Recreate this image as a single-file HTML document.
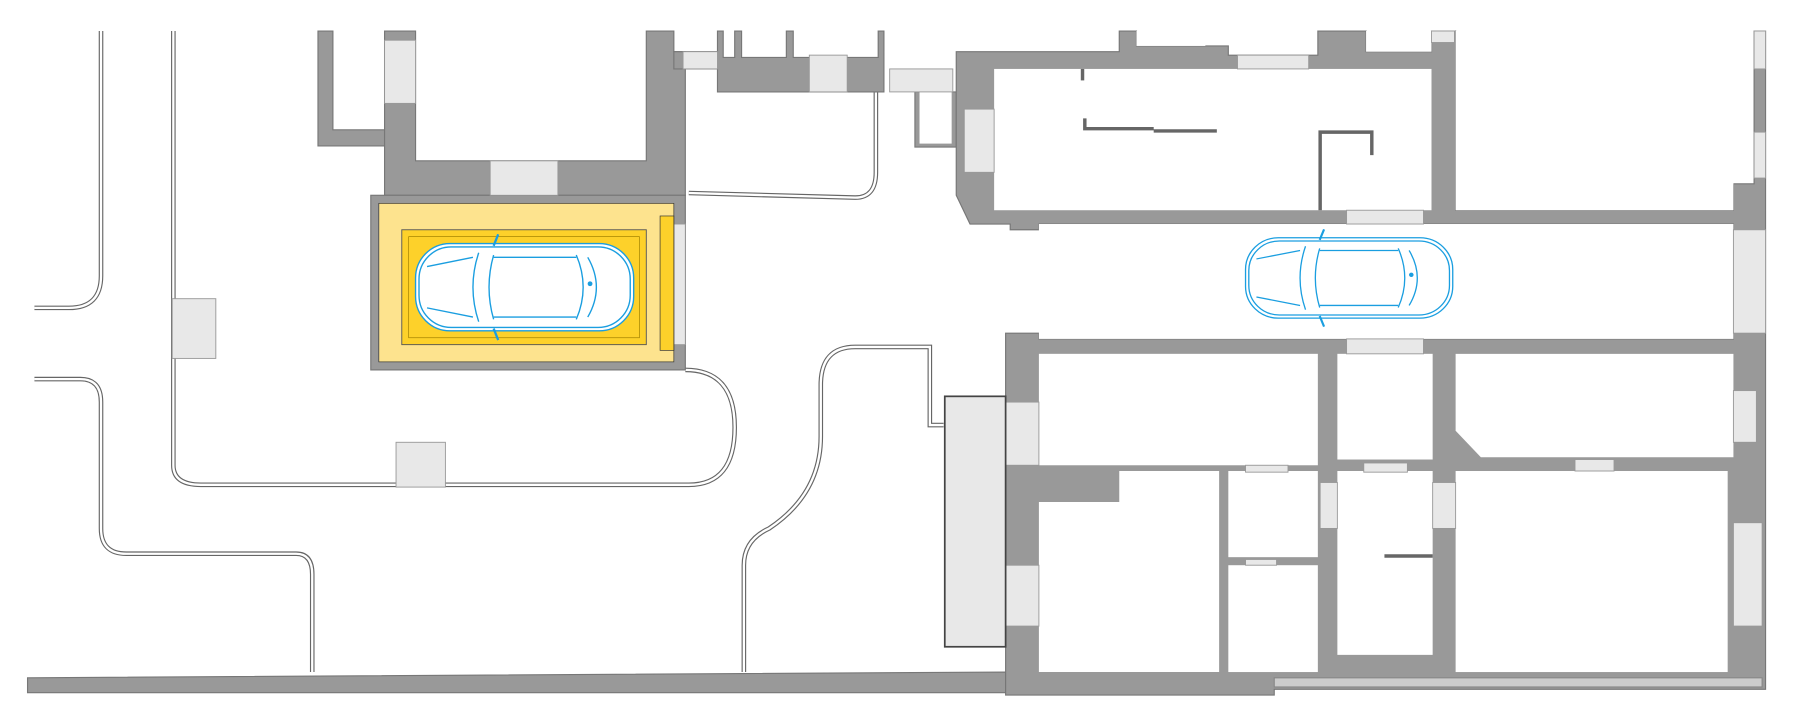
<!DOCTYPE html>
<html><head><meta charset="utf-8"><style>html,body{margin:0;padding:0;background:#fff}svg{display:block}</style></head>
<body>
<svg width="1800" height="718" viewBox="0 0 1568 625" preserveAspectRatio="none" xmlns="http://www.w3.org/2000/svg">
<defs>
<g id="car" fill="none" stroke="#1a9ee0" stroke-width="1.2">
  <rect x="0" y="0" width="190" height="76" rx="30" fill="#fff"/>
  <rect x="3" y="3" width="184" height="70" rx="28"/>
  <path d="M55 8 Q45 38 55 68 M68 10 Q60 38 68 66 M140 10 Q152 38 140 66 M150 12 Q165 38 150 64"/>
  <path d="M68 12 L140 12 M68 64 L140 64 M10 20 L50 12 M10 56 L50 64"/>
  <path d="M68 2 L72 -8 M68 74 L72 84" stroke-width="2"/>
  <circle cx="152" cy="35" r="1.5" fill="#1a9ee0"/>
</g>
</defs>
<g fill="none" stroke="#666" stroke-width="4">
<path d="M88 27 V240 Q88 268 60 268 H30"/>
<path d="M151 27 V405 Q151 422 175 422 H600 Q640 422 640 372 Q640 322 597 322"/>
<path d="M30 330 H70 Q88 330 88 350 V460 Q88 482 110 482 H258 Q272 482 272 500 V585"/>
<path d="M648 585 V492 Q648 470 670 460 Q715 430 715 380 V335 Q715 302 745 302 H810 V370 H822"/>
<path d="M600 168 L745 172 Q763 172 763 150 V80"/>
</g>
<g fill="none" stroke="#fff" stroke-width="2">
<path d="M88 27 V240 Q88 268 60 268 H30"/>
<path d="M151 27 V405 Q151 422 175 422 H600 Q640 422 640 372 Q640 322 597 322"/>
<path d="M30 330 H70 Q88 330 88 350 V460 Q88 482 110 482 H258 Q272 482 272 500 V585"/>
<path d="M648 585 V492 Q648 470 670 460 Q715 430 715 380 V335 Q715 302 745 302 H810 V370 H822"/>
<path d="M600 168 L745 172 Q763 172 763 150 V80"/>
</g>
<g fill="#999" stroke="#777" stroke-width="1">
<polygon points="24,590 876,585 876,603 24,603"/>
<polygon points="277,27 290,27 290,113 335,113 335,127 277,127"/>
<polygon points="335,27 362,27 362,140 563,140 563,27 587,27 587,45 597,45 597,170 335,170"/>
<rect x="323" y="170" width="274" height="152"/>
<polygon points="587,45 625,45 625,27 630,27 630,50 640,50 640,27 646,27 646,50 685,50 685,27 691,27 691,50 765,50 765,27 770,27 770,80 625,80 625,60 587,60"/>
<polygon points="797,80 833,80 833,128 797,128"/>
<polygon points="833,45 975,45 975,27 990,27 990,40 1070,40 1070,48 1148,48 1148,27 1190,27 1190,45 1247,45 1247,27 1268,27 1268,183 1510,183 1510,160 1528,160 1528,27 1538,27 1538,600 1110,600 1110,605 876,605 876,290 905,290 905,295 1510,295 1510,195 905,195 905,200 880,200 880,195 845,195 833,170"/>
</g>
<rect x="801" y="80" width="28" height="45" fill="#fff"/>
<rect x="866" y="60" width="381" height="123" fill="#fff"/>
<rect x="1268" y="27" width="242" height="156" fill="#fff"/>
<rect x="1190" y="27" width="57" height="18" fill="#fff"/>
<rect x="990" y="27" width="60" height="13" fill="#fff"/>
<rect x="905" y="195" width="605" height="100" fill="#fff"/>
<g fill="#fff">
<rect x="905" y="308" width="243" height="97"/>
<rect x="1165" y="308" width="83" height="92"/>
<polygon points="1268,308 1510,308 1510,398 1290,398 1268,375"/>
<polygon points="975,410 1062,410 1062,585 905,585 905,437 975,437"/>
<rect x="1070" y="410" width="78" height="75"/>
<rect x="1070" y="492" width="78" height="93"/>
<polygon points="1165,410 1248,410 1248,570 1165,570"/>
<rect x="1268" y="410" width="237" height="175"/>
</g>
<g fill="#e8e8e8" stroke="#999" stroke-width="0.8">
<rect x="335" y="35" width="27" height="55"/>
<rect x="427" y="140" width="59" height="30"/>
<rect x="150" y="260" width="38" height="52"/>
<rect x="345" y="385" width="43" height="39"/>
<rect x="587" y="195" width="10" height="105"/>
<rect x="595" y="45" width="30" height="15"/>
<rect x="705" y="48" width="33" height="32"/>
<rect x="775" y="60" width="55" height="20"/>
<rect x="840" y="95" width="26" height="55"/>
<rect x="1078" y="48" width="62" height="12"/>
<rect x="1247" y="27" width="20" height="10"/>
<rect x="1173" y="183" width="67" height="12"/>
<rect x="1173" y="295" width="67" height="13"/>
<rect x="1510" y="200" width="28" height="90"/>
<rect x="1528" y="27" width="10" height="33"/>
<rect x="1528" y="115" width="10" height="40"/>
<rect x="876" y="350" width="29" height="55"/>
<rect x="876" y="492" width="29" height="53"/>
<rect x="1085" y="405" width="37" height="6"/>
<rect x="1188" y="403" width="38" height="8"/>
<rect x="1372" y="400" width="34" height="10"/>
<rect x="1150" y="420" width="15" height="40"/>
<rect x="1248" y="420" width="20" height="40"/>
<rect x="1085" y="487" width="27" height="5"/>
<rect x="1510" y="340" width="20" height="45"/>
<rect x="1510" y="455" width="25" height="90"/>
<rect x="823" y="345" width="53" height="218" stroke="#444" stroke-width="1.5"/>
</g>
<g stroke="#666" stroke-width="3" fill="none">
<path d="M943 60 V70"/>
<path d="M945 103 V112 H1005 M1005 114 H1060"/>
<path d="M1150 183 V115 H1195 V135"/>
<path d="M1206 484 H1248"/>
</g>
<rect x="1110" y="590" width="425" height="8" fill="#ccc" stroke="#888" stroke-width="1"/>
<rect x="330" y="177" width="257" height="138" fill="#fde38e" stroke="#333" stroke-width="0.6"/>
<rect x="350" y="200" width="213" height="100" fill="#fdd12a" stroke="#555" stroke-width="0.8"/>
<rect x="356" y="206" width="201" height="88" fill="none" stroke="#a08000" stroke-width="0.6"/>
<rect x="575" y="188" width="12" height="117" fill="#fdd12a" stroke="#333" stroke-width="0.6"/>
<use href="#car" transform="translate(362,212)"/>
<use href="#car" transform="translate(1085,207) scale(0.95,0.92)"/>
</svg>
</body></html>
